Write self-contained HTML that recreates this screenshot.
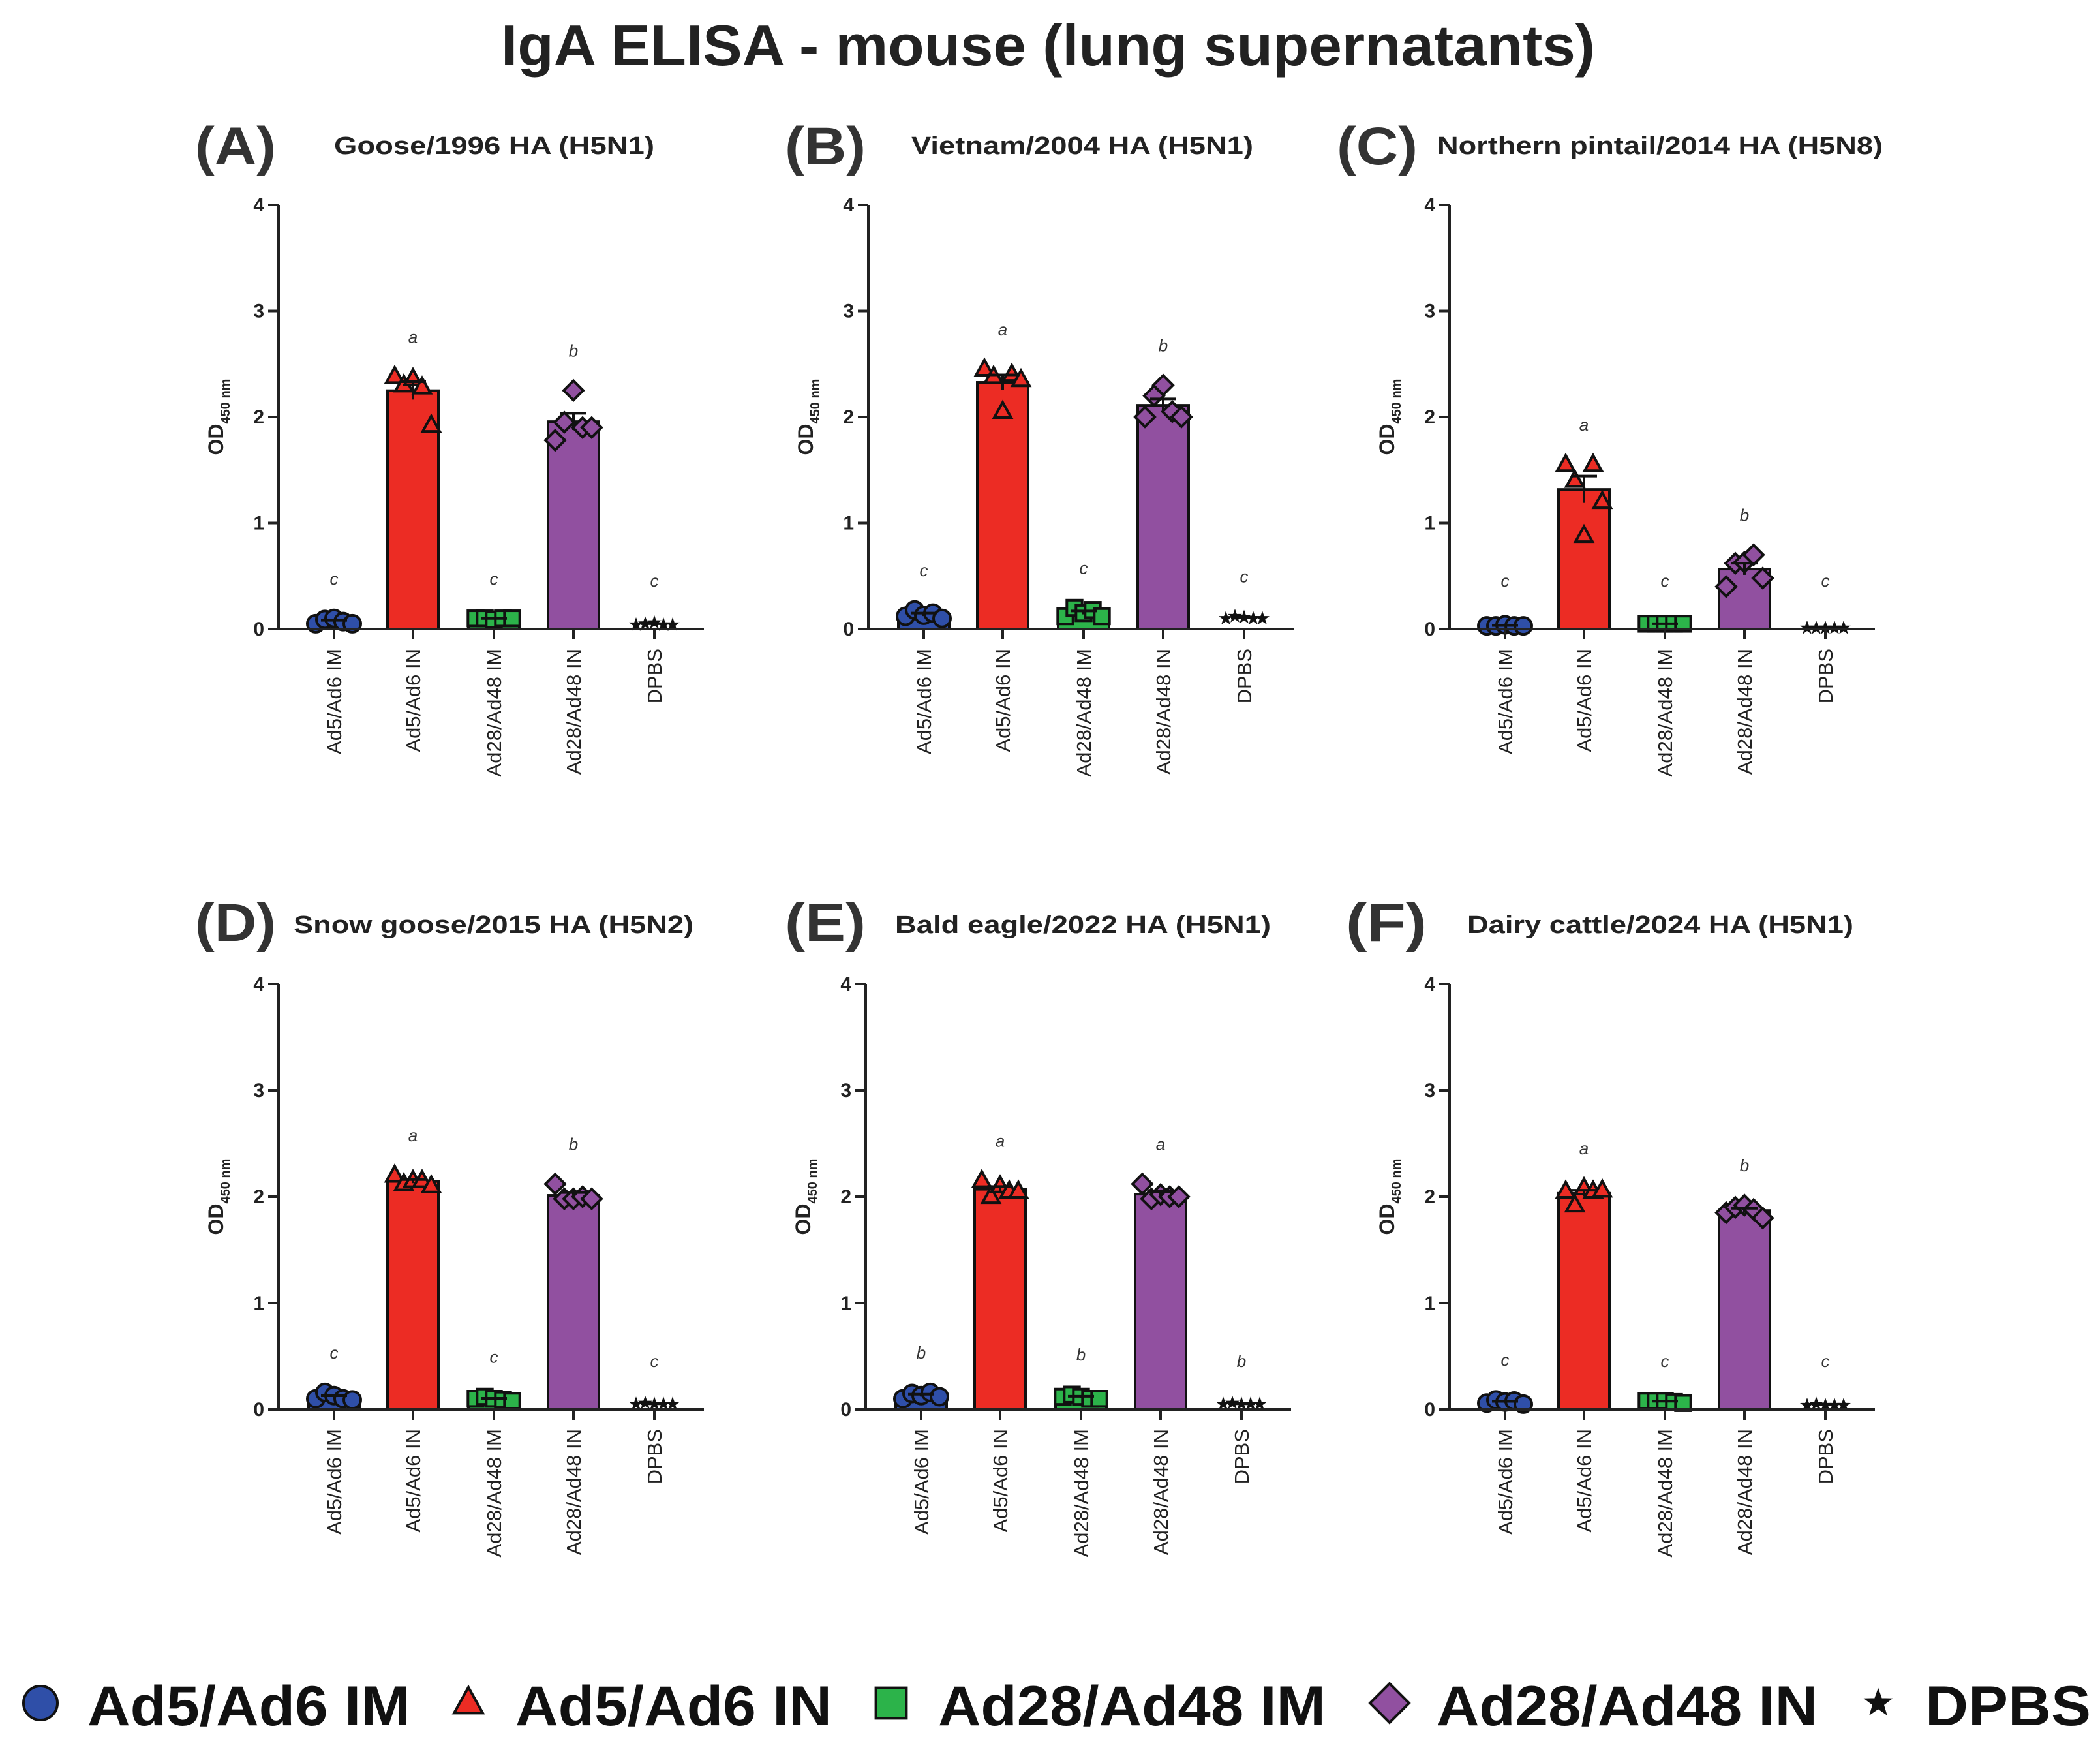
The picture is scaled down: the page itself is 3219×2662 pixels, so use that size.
<!DOCTYPE html>
<html><head><meta charset="utf-8">
<style>html,body{margin:0;padding:0;background:#fff}svg{display:block}text{font-family:"Liberation Sans",Arial,sans-serif}</style>
</head><body>
<svg id="fig" width="3219" height="2662" viewBox="0 0 3219 2662" xmlns="http://www.w3.org/2000/svg">
<text x="768" y="100" font-size="88" font-weight="bold" fill="#222" textLength="1677" lengthAdjust="spacingAndGlyphs">IgA ELISA - mouse (lung supernatants)</text>
<g id="panels"></g>
<g id="legend"></g>
</svg>
<script>
const categories = ["Ad5/Ad6 IM","Ad5/Ad6 IN","Ad28/Ad48 IM","Ad28/Ad48 IN","DPBS"];
const colors = ["#2f4fa8","#ec2c24","#2cb34a","#9150a0","#111"];
const shapes = ["circle","triangle","square","diamond","star"];
const yTicks = [0,1,2,3,4];
const panelLetters = ["(A)","(B)","(C)","(D)","(E)","(F)"];
const panelTitles = ["Goose/1996 HA (H5N1)","Vietnam/2004 HA (H5N1)","Northern pintail/2014 HA (H5N8)","Snow goose/2015 HA (H5N2)","Bald eagle/2022 HA (H5N1)","Dairy cattle/2024 HA (H5N1)"];
const sigLetters = [
 ["c","a","c","b","c"],["c","a","c","b","c"],["c","a","c","b","c"],
 ["c","a","c","b","c"],["b","a","b","a","b"],["c","a","c","b","c"]];
const pointsA = [[0.05,0.09,0.1,0.07,0.05],[2.38,2.3,2.36,2.28,1.92],[0.1,0.1,0.09,0.1,0.1],[1.78,1.95,2.25,1.9,1.9],[0.04,0.05,0.06,0.04,0.04]];
const pointsB = [[0.12,0.18,0.13,0.15,0.1],[2.45,2.38,2.05,2.4,2.35],[0.12,0.2,0.15,0.18,0.12],[2.0,2.2,2.3,2.05,2.0],[0.1,0.12,0.11,0.1,0.1]];
const pointsC = [[0.03,0.03,0.04,0.03,0.03],[1.55,1.4,0.88,1.55,1.2],[0.05,0.05,0.05,0.05,0.05],[0.4,0.62,0.63,0.7,0.48],[0.01,0.01,0.01,0.01,0.01]];
const pointsD = [[0.1,0.16,0.13,0.1,0.09],[2.2,2.12,2.15,2.15,2.1],[0.1,0.12,0.1,0.09,0.08],[2.12,1.98,1.98,2.0,1.98],[0.05,0.06,0.05,0.05,0.05]];
const pointsE = [[0.1,0.15,0.13,0.16,0.12],[2.15,2.0,2.1,2.05,2.05],[0.12,0.14,0.12,0.1,0.1],[2.12,1.98,2.02,2.0,2.0],[0.05,0.06,0.05,0.05,0.05]];
const pointsF = [[0.06,0.09,0.07,0.08,0.05],[2.05,1.92,2.08,2.05,2.06],[0.08,0.08,0.08,0.07,0.06],[1.85,1.9,1.92,1.88,1.8],[0.04,0.05,0.04,0.04,0.04]];
const allPoints = [pointsA,pointsB,pointsC,pointsD,pointsE,pointsF];

const NS="http://www.w3.org/2000/svg";
function mk(tag,attrs,parent){const e=document.createElementNS(NS,tag);for(const k in attrs)e.setAttribute(k,attrs[k]);parent.appendChild(e);return e;}
const layout=[
 {ax:427,y0:964,y4:314,lx:299,ly:252,sx:512,sy:236,sw:491},
 {ax:1331,y0:964,y4:314,lx:1203,ly:252,sx:1397,sy:236,sw:524},
 {ax:2222,y0:964,y4:314,lx:2049,ly:252,sx:2203,sy:236,sw:683},
 {ax:427,y0:2160,y4:1508,lx:299,ly:1442,sx:450,sy:1430,sw:613},
 {ax:1327,y0:2160,y4:1508,lx:1203,ly:1442,sx:1372,sy:1430,sw:576},
 {ax:2222,y0:2160,y4:1508,lx:2063,ly:1442,sx:2249,sy:1430,sw:592}];
const catOff=[85,206,330,452,576];
function marker(g,shape,x,y,s,fill){
 let e;
 if(shape==="circle") e=mk("circle",{cx:x,cy:y,r:s},g);
 else if(shape==="triangle") e=mk("polygon",{points:`${x},${y-s*1.1} ${x-s},${y+s*0.7} ${x+s},${y+s*0.7}`},g);
 else if(shape==="square") e=mk("rect",{x:x-s*0.9,y:y-s*0.9,width:s*1.8,height:s*1.8},g);
 else if(shape==="diamond") e=mk("polygon",{points:`${x},${y-s*1.15} ${x+s*1.15},${y} ${x},${y+s*1.15} ${x-s*1.15},${y}`},g);
 else {let p=[];for(let i=0;i<10;i++){const r=i%2?s*0.4:s;const a=-Math.PI/2+i*Math.PI/5;p.push((x+r*Math.cos(a)).toFixed(1)+","+(y+r*Math.sin(a)).toFixed(1));}
  e=mk("polygon",{points:p.join(" ")},g);}
 e.setAttribute("fill",shape==="star"?"#111":fill);
 e.setAttribute("stroke","#111");e.setAttribute("stroke-width",shape==="star"?1:4);
 return e;
}
const panels=document.getElementById("panels");
allPoints.forEach((pts,pi)=>{
 const L=layout[pi];const unit=(L.y0-L.y4)/4;
 const yS=v=>L.y0-v*unit;
 const g=mk("g",{},panels);
 
 
 const lt=mk("text",{x:L.lx,y:L.ly,"font-size":82,"font-weight":"bold",fill:"#333",textLength:124,lengthAdjust:"spacingAndGlyphs"},g);lt.textContent=panelLetters[pi];
 
 
 const st=mk("text",{x:L.sx,y:L.sy,"font-size":38,"font-weight":"bold",fill:"#222",textLength:L.sw,lengthAdjust:"spacingAndGlyphs"},g);st.textContent=panelTitles[pi];
 
 
 pts.forEach((arr,ci)=>{
  const cx=L.ax+catOff[ci];const mean=arr.reduce((a,b)=>a+b,0)/arr.length;
  const sd=Math.sqrt(arr.reduce((a,b)=>a+(b-mean)**2,0)/(arr.length-1));const sem=sd/Math.sqrt(arr.length);
  if(ci!==4){const b=mk("rect",{x:cx-39,y:yS(mean),width:78,height:Math.max(0,L.y0-yS(mean)),fill:colors[ci],stroke:"#111","stroke-width":4},g);
   
   }
  arr.forEach((v,k)=>{const m=marker(g,shapes[ci],cx-28+k*14,yS(v),ci===4?10:13,colors[ci]);
   
   });
  mk("line",{x1:cx,x2:cx,y1:yS(mean+sem),y2:yS(mean-sem),stroke:"#111","stroke-width":4},g);
  mk("line",{x1:cx-20,x2:cx+20,y1:yS(mean+sem),y2:yS(mean+sem),stroke:"#111","stroke-width":4},g);
  const mx=Math.max(...arr);
  const s=mk("text",{x:cx,y:yS(Math.max(mx+0.32,0.4)),"font-size":26,"font-style":"italic","text-anchor":"middle",fill:"#333"},g);s.textContent=sigLetters[pi][ci];
  
  
  mk("line",{x1:cx,x2:cx,y1:L.y0,y2:L.y0+16,stroke:"#222","stroke-width":4},g);
  const cl=mk("text",{transform:`translate(${cx+11},${L.y0+30}) rotate(-90)`,"font-size":31,"text-anchor":"end",fill:"#222"},g);cl.textContent=categories[ci];
  
  
 });
 const ya=mk("line",{x1:L.ax,x2:L.ax,y1:L.y4,y2:L.y0,stroke:"#222","stroke-width":4},g);
 
 
 const xa=mk("line",{x1:L.ax,x2:L.ax+652,y1:L.y0,y2:L.y0,stroke:"#222","stroke-width":4},g);
 
 
 yTicks.forEach(t=>{mk("line",{x1:L.ax-16,x2:L.ax,y1:yS(t),y2:yS(t),stroke:"#222","stroke-width":4},g);
  const tl=mk("text",{x:L.ax-22,y:yS(t)+10,"font-size":30,"font-weight":"bold","text-anchor":"end",fill:"#222"},g);tl.textContent=t;
  
  });
 const yt=mk("text",{transform:`translate(${L.ax-85},${(L.y0+L.y4)/2}) rotate(-90)`,"font-size":32,"font-weight":"bold","text-anchor":"middle",fill:"#222"},g);
 yt.innerHTML='OD<tspan font-size="20" dy="10">450 nm</tspan>';
 
 
});
const leg=document.getElementById("legend");
const legX=[62,718,1366,2130,2879];const legTX=[134,790,1438,2202,2951];const legW=[495,485,594,584,254];
categories.forEach((c,i)=>{
 const g=mk("g",{},leg);
 
 
 marker(g,shapes[i],legX[i],2610,i===4?22:(i===1?22:26),colors[i]);
 const t=mk("text",{x:legTX[i],y:2644,"font-size":86,"font-weight":"bold",fill:"#111",textLength:legW[i],lengthAdjust:"spacingAndGlyphs"},g);t.textContent=c;
});
</script>
</body></html>
